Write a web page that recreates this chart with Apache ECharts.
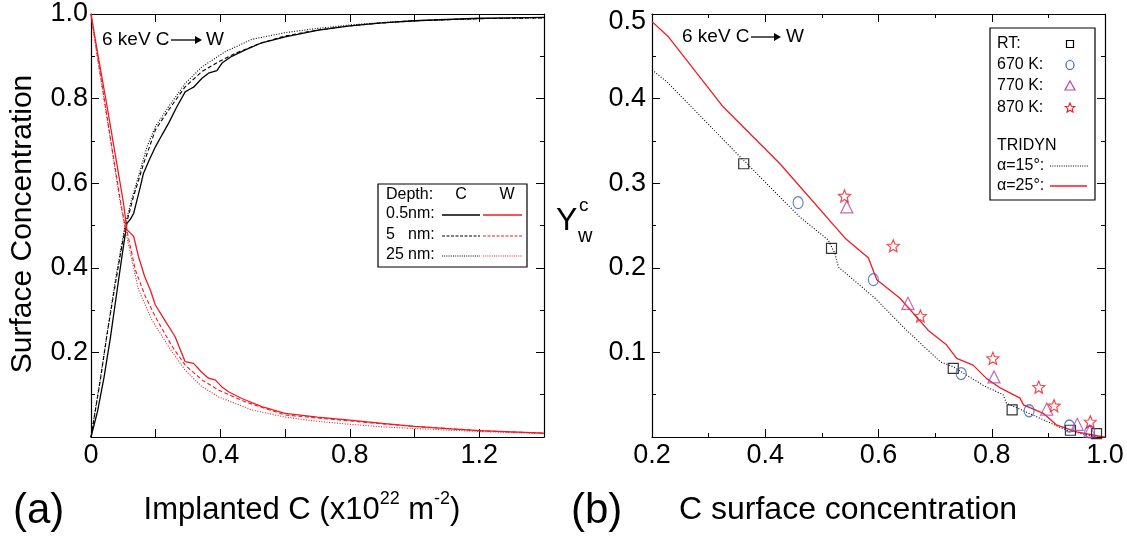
<!DOCTYPE html>
<html><head><meta charset="utf-8">
<script src="https://cdn.jsdelivr.net/npm/echarts@6/dist/echarts.min.js"></script>
<style>html,body{margin:0;padding:0;background:#fff}#c{width:1127px;height:537px}</style>
</head><body><div id="c"></div>
<script>
// ---------- Panel (a): surface concentration vs implanted C ----------
const c05x = [0,0.02,0.04,0.06,0.085,0.1,0.111,0.122,0.132,0.142,0.152,0.162,0.18,0.199,0.22,0.24,0.265,0.291,0.305,0.317,0.343,0.363,0.389,0.405,0.435,0.477,0.528,0.6,0.703,0.8,0.9,1.0,1.1,1.2,1.3,1.4];
const c05y = [0,0.06,0.14,0.235,0.37,0.45,0.505,0.515,0.529,0.56,0.59,0.623,0.655,0.686,0.715,0.742,0.78,0.816,0.822,0.827,0.848,0.86,0.866,0.884,0.9,0.915,0.932,0.946,0.962,0.972,0.979,0.984,0.987,0.99,0.991,0.992];
const c5x = [0,0.029,0.05,0.077,0.095,0.108,0.13,0.147,0.162,0.199,0.24,0.291,0.343,0.394,0.446,0.528,0.6,0.7,0.8,0.9,1.0,1.2,1.4];
const c5y = [0,0.135,0.245,0.37,0.45,0.5,0.565,0.607,0.645,0.726,0.773,0.828,0.864,0.887,0.907,0.932,0.948,0.962,0.972,0.979,0.984,0.989,0.991];
const c25x = [0,0.028,0.075,0.105,0.125,0.15,0.173,0.199,0.24,0.291,0.343,0.415,0.497,0.6,0.7,0.8,0.9,1.0,1.2,1.4];
const c25y = [0,0.135,0.37,0.5,0.56,0.625,0.686,0.734,0.781,0.836,0.875,0.911,0.94,0.956,0.966,0.974,0.98,0.984,0.989,0.991];
const w05x = [0,0.02,0.05,0.08,0.1,0.111,0.122,0.132,0.147,0.166,0.183,0.199,0.224,0.26,0.291,0.317,0.34,0.363,0.384,0.405,0.425,0.466,0.528,0.6,0.7,0.8,0.9,1.0,1.1,1.2,1.3,1.4];
const w05y = [1,0.91,0.78,0.645,0.555,0.49,0.482,0.474,0.426,0.379,0.348,0.312,0.281,0.237,0.178,0.174,0.155,0.139,0.135,0.118,0.107,0.091,0.072,0.056,0.047,0.04,0.032,0.025,0.02,0.015,0.012,0.009];
const w5x = [0,0.02,0.05,0.0905,0.105,0.111,0.137,0.168,0.204,0.25,0.291,0.343,0.394,0.477,0.6,0.7,0.8,0.9,1.0,1.2,1.4];
const w5y = [1,0.9,0.755,0.56,0.5,0.488,0.395,0.332,0.277,0.215,0.17,0.135,0.111,0.083,0.052,0.045,0.038,0.031,0.025,0.015,0.009];
const w25x = [0,0.02,0.05,0.09,0.105,0.12,0.147,0.188,0.24,0.291,0.343,0.394,0.497,0.6,0.7,0.8,0.9,1.0,1.2,1.4];
const w25y = [1,0.895,0.75,0.555,0.495,0.44,0.348,0.277,0.213,0.158,0.119,0.095,0.064,0.047,0.037,0.03,0.024,0.02,0.013,0.008];
const aXTicks = [0,0.4,0.8,1.2];

// ---------- Panel (b): sputter yield vs C surface concentration ----------
const a25x = [0.2,0.229,0.326,0.426,0.541,0.582,0.597,0.638,0.688,0.72,0.738,0.767,0.791,0.815,0.85,0.856,0.891,0.915,0.95,0.997,1.0];
const a25y = [0.491,0.473,0.39,0.323,0.235,0.212,0.186,0.164,0.126,0.109,0.093,0.085,0.069,0.058,0.046,0.038,0.028,0.014,0.006,0.0,0.0];
const a15x = [0.2,0.226,0.35,0.461,0.511,0.523,0.529,0.594,0.65,0.709,0.732,0.785,0.82,0.826,0.879,0.932,0.985,1.0];
const a15y = [0.434,0.42,0.335,0.26,0.233,0.217,0.201,0.164,0.126,0.089,0.083,0.061,0.05,0.04,0.024,0.008,0.0,0.0];
const rtX = [0.362,0.517,0.732,0.836,0.939,0.985];
const rtY = [0.323,0.223,0.081,0.032,0.008,0.004];
const k670X = [0.458,0.591,0.746,0.866,0.937,0.973];
const k670Y = [0.277,0.186,0.075,0.031,0.013,0.006];
const k770X = [0.544,0.652,0.804,0.897,0.951,0.973];
const k770Y = [0.272,0.158,0.071,0.033,0.015,0.007];
const k870X = [0.54,0.626,0.674,0.802,0.883,0.91,0.974];
const k870Y = [0.285,0.226,0.143,0.093,0.059,0.037,0.018];

const F = '"Liberation Sans", Arial, Helvetica, sans-serif';
const RED = '#ed1c24', BLUE = '#3a5fb8', PURPLE = '#b245a6';
const STAR = 'path://M0,-10L2.645,-3.64L9.51,-3.09L4.28,1.39L5.88,8.09L0,4.5L-5.88,8.09L-4.28,1.39L-9.51,-3.09L-2.645,-3.64Z';
const zip = (xs, ys) => xs.map((x, i) => [x, ys[i]]);

function lineS(name, xs, ys, color, type, width, ai) {
  return {name, type: 'line', xAxisIndex: ai, yAxisIndex: ai, data: zip(xs, ys), showSymbol: false, symbol: 'none',
    lineStyle: {color, type, width}, z: 2, silent: true, animation: false};
}
function markS(name, xs, ys, symbol, size, color) {
  return {name, type: 'scatter', xAxisIndex: 2, yAxisIndex: 2, data: zip(xs, ys), symbol, symbolSize: size,
    itemStyle: {color: 'rgba(0,0,0,0)', borderColor: color, borderWidth: 1.2}, z: 5, silent: true, animation: false};
}
const axLine = {show: true, onZero: false, lineStyle: {color: '#000', width: 1.2}};
const lblStyle = {color: '#000', fontFamily: F, fontSize: 27};
function ax(base) {
  return Object.assign({type: 'value', axisLine: axLine, splitLine: {show: false},
    axisTick: {show: true, inside: true, length: 8, lineStyle: {color: '#000', width: 1}}}, base);
}
const minor = {show: true, splitNumber: 2, length: 4, lineStyle: {color: '#000', width: 1}};

function txt(x, y, s, size, align, extra) {
  align = align || 'left';
  return Object.assign({type: 'text', x, y, silent: true, z: 100,
    style: {text: s, font: size + 'px ' + F, fill: '#000', textAlign: align, align: align, textVerticalAlign: 'middle', verticalAlign: 'middle'}}, extra || {});
}
function seg(x1, y1, x2, y2, color, dash, w) {
  return {type: 'line', silent: true, z: 100, shape: {x1, y1, x2, y2}, style: {stroke: color, lineWidth: w || 1.2, lineDash: dash || null}};
}
function arrow(x1, x2, y) {
  return [seg(x1, y, x2 - 5, y, '#000', null, 1.3),
    {type: 'polygon', silent: true, z: 100, shape: {points: [[x2 - 7, y - 4], [x2, y], [x2 - 7, y + 4]]}, style: {fill: '#000'}}];
}

const chart = echarts.init(document.getElementById('c'), null, {renderer: 'canvas'});
const option = {
  animation: false,
  backgroundColor: '#fff',
  grid: [
    {left: 91, top: 14, width: 453, height: 423},
    {left: 652, top: 14, width: 453, height: 423}
  ],
  xAxis: [
    ax({gridIndex: 0, position: 'bottom', min: 0, max: 1.4, interval: 0.2,
      axisLabel: Object.assign({margin: 5, formatter: v => (aXTicks.some(t => Math.abs(t - v) < 1e-6) ? (v === 0 ? '0' : v.toFixed(1)) : '')}, lblStyle)}),
    ax({gridIndex: 0, position: 'top', min: 0, max: 1.4, interval: 0.2, axisLabel: {show: false}}),
    ax({gridIndex: 1, position: 'bottom', min: 0.2, max: 1.0, interval: 0.2, minorTick: minor,
      axisLabel: Object.assign({margin: 5, formatter: v => v.toFixed(1)}, lblStyle)}),
    ax({gridIndex: 1, position: 'top', min: 0.2, max: 1.0, interval: 0.2, minorTick: minor, axisLabel: {show: false}})
  ],
  yAxis: [
    ax({gridIndex: 0, position: 'left', min: 0, max: 1, interval: 0.2, minorTick: minor,
      axisLabel: Object.assign({margin: 3, formatter: v => (v === 0 ? '' : v.toFixed(1))}, lblStyle)}),
    ax({gridIndex: 0, position: 'right', min: 0, max: 1, interval: 0.2, minorTick: minor, axisLabel: {show: false}}),
    ax({gridIndex: 1, position: 'left', min: 0, max: 0.5, interval: 0.1, minorTick: minor,
      axisLabel: Object.assign({margin: 6, formatter: v => (v === 0 ? '' : (v > 0.45 ? '{d|0.5}' : v.toFixed(1))),
        rich: {d: {fontSize: 27, fontFamily: F, color: '#000', padding: [15, 0, 0, 0]}}}, lblStyle)}),
    ax({gridIndex: 1, position: 'right', min: 0, max: 0.5, interval: 0.1, minorTick: minor, axisLabel: {show: false}})
  ],
  series: [
    lineS('C 25nm', c25x, c25y, '#000', [1, 1.6], 1.1, 0),
    lineS('C 5nm', c5x, c5y, '#000', [4, 2.5], 1.1, 0),
    lineS('C 0.5nm', c05x, c05y, '#000', 'solid', 1.3, 0),
    lineS('W 25nm', w25x, w25y, RED, [1, 1.6], 1.1, 0),
    lineS('W 5nm', w5x, w5y, RED, [4, 2.5], 1.1, 0),
    lineS('W 0.5nm', w05x, w05y, RED, 'solid', 1.3, 0),
    lineS('TRIDYN 15', a15x, a15y, '#000', [1, 1.8], 1.1, 2),
    lineS('TRIDYN 25', a25x, a25y, RED, 'solid', 1.3, 2),
    markS('RT', rtX, rtY, 'rect', 10, '#000'),
    markS('670 K', k670X, k670Y, 'circle', [10, 12], BLUE),
    markS('770 K', k770X, k770Y, 'triangle', 12, PURPLE),
    markS('870 K', k870X, k870Y, STAR, 12, RED)
  ],
  graphic: [].concat(
    // axis titles and panel labels
    [txt(23, 224, 'Surface Concentration', 30, 'center', {rotation: Math.PI / 2})],
    [{type: 'text', x: 302, y: 510, silent: true, z: 100, style: {
      text: '{a|Implanted C (x10}{s|22}{a| m}{s|-2}{a|)}', textAlign: 'center', align: 'center', textVerticalAlign: 'middle', verticalAlign: 'middle',
      rich: {a: {fontSize: 31, fontFamily: F, lineHeight: 40, fill: '#000', color: '#000'},
             s: {fontSize: 18, fontFamily: F, lineHeight: 20, verticalAlign: 'top', fill: '#000', color: '#000'}}}}],
    [txt(848, 510, 'C surface concentration', 32, 'center')],
    [txt(13, 511, '(a)', 42), txt(571, 511, '(b)', 42)],
    [txt(556, 221, 'Y', 32), txt(579, 206, 'c', 19), txt(578, 236, 'w', 20)],
    // energy annotations
    [txt(102, 40, '6 keV C', 19), txt(206, 40, 'W', 19)], arrow(171, 202, 40),
    [txt(682, 37, '6 keV C', 19), txt(786, 37, 'W', 19)], arrow(751, 781, 37),
    // legend (a)
    [{type: 'rect', silent: true, z: 99, shape: {x: 378, y: 184, width: 149, height: 83}, style: {fill: '#fff', stroke: '#000', lineWidth: 1.2}}],
    [txt(386, 195, 'Depth:', 16), txt(461, 195, 'C', 16, 'center'), txt(507, 195, 'W', 16, 'center'),
     txt(386, 214, '0.5', 16), txt(408, 214, 'nm:', 16),
     txt(386, 235, '5', 16), txt(408, 235, 'nm:', 16),
     txt(386, 255, '25', 16), txt(408, 255, 'nm:', 16)],
    [seg(442, 215, 480, 215, '#000', null, 1.3), seg(483, 215, 522, 215, RED, null, 1.3),
     seg(442, 236, 480, 236, '#000', [3, 1.5], 1), seg(483, 236, 522, 236, RED, [3, 1.5], 1),
     seg(442, 256, 480, 256, '#000', [1, 1.2], 1), seg(483, 256, 522, 256, RED, [1, 1.2], 1)],
    // legend (b)
    [{type: 'rect', silent: true, z: 99, shape: {x: 990, y: 28, width: 105, height: 172}, style: {fill: '#fff', stroke: '#000', lineWidth: 1.2}}],
    [txt(997, 44, 'RT:', 16), txt(997, 65, '670 K:', 16), txt(997, 86, '770 K:', 16), txt(997, 108, '870 K:', 16),
     txt(997, 146, 'TRIDYN', 16), txt(997, 166, 'α=15°:', 16), txt(997, 186, 'α=25°:', 16)],
    [{type: 'rect', silent: true, z: 100, shape: {x: 1066.5, y: 40.5, width: 7, height: 7}, style: {fill: 'none', stroke: '#000', lineWidth: 1.2}},
     {type: 'ellipse', silent: true, z: 100, shape: {cx: 1070, cy: 65, rx: 4, ry: 4.5}, style: {fill: 'none', stroke: BLUE, lineWidth: 1.2}},
     {type: 'polygon', silent: true, z: 100, shape: {points: [[1070, 81], [1075, 90], [1065, 90]]}, style: {fill: 'none', stroke: PURPLE, lineWidth: 1.2}},
     {type: 'polygon', silent: true, z: 100, x: 1070, y: 108, scaleX: 0.5, scaleY: 0.5,
      shape: {points: [[0,-10],[2.645,-3.64],[9.51,-3.09],[4.28,1.39],[5.88,8.09],[0,4.5],[-5.88,8.09],[-4.28,1.39],[-9.51,-3.09],[-2.645,-3.64]]},
      style: {fill: 'none', stroke: RED, lineWidth: 2.2}}],
    [seg(1050, 166, 1088, 166, '#000', [1, 1.3], 1), seg(1050, 186, 1087, 186, RED, null, 1.3)]
  )
};
chart.setOption(option);
</script>
</body></html>
